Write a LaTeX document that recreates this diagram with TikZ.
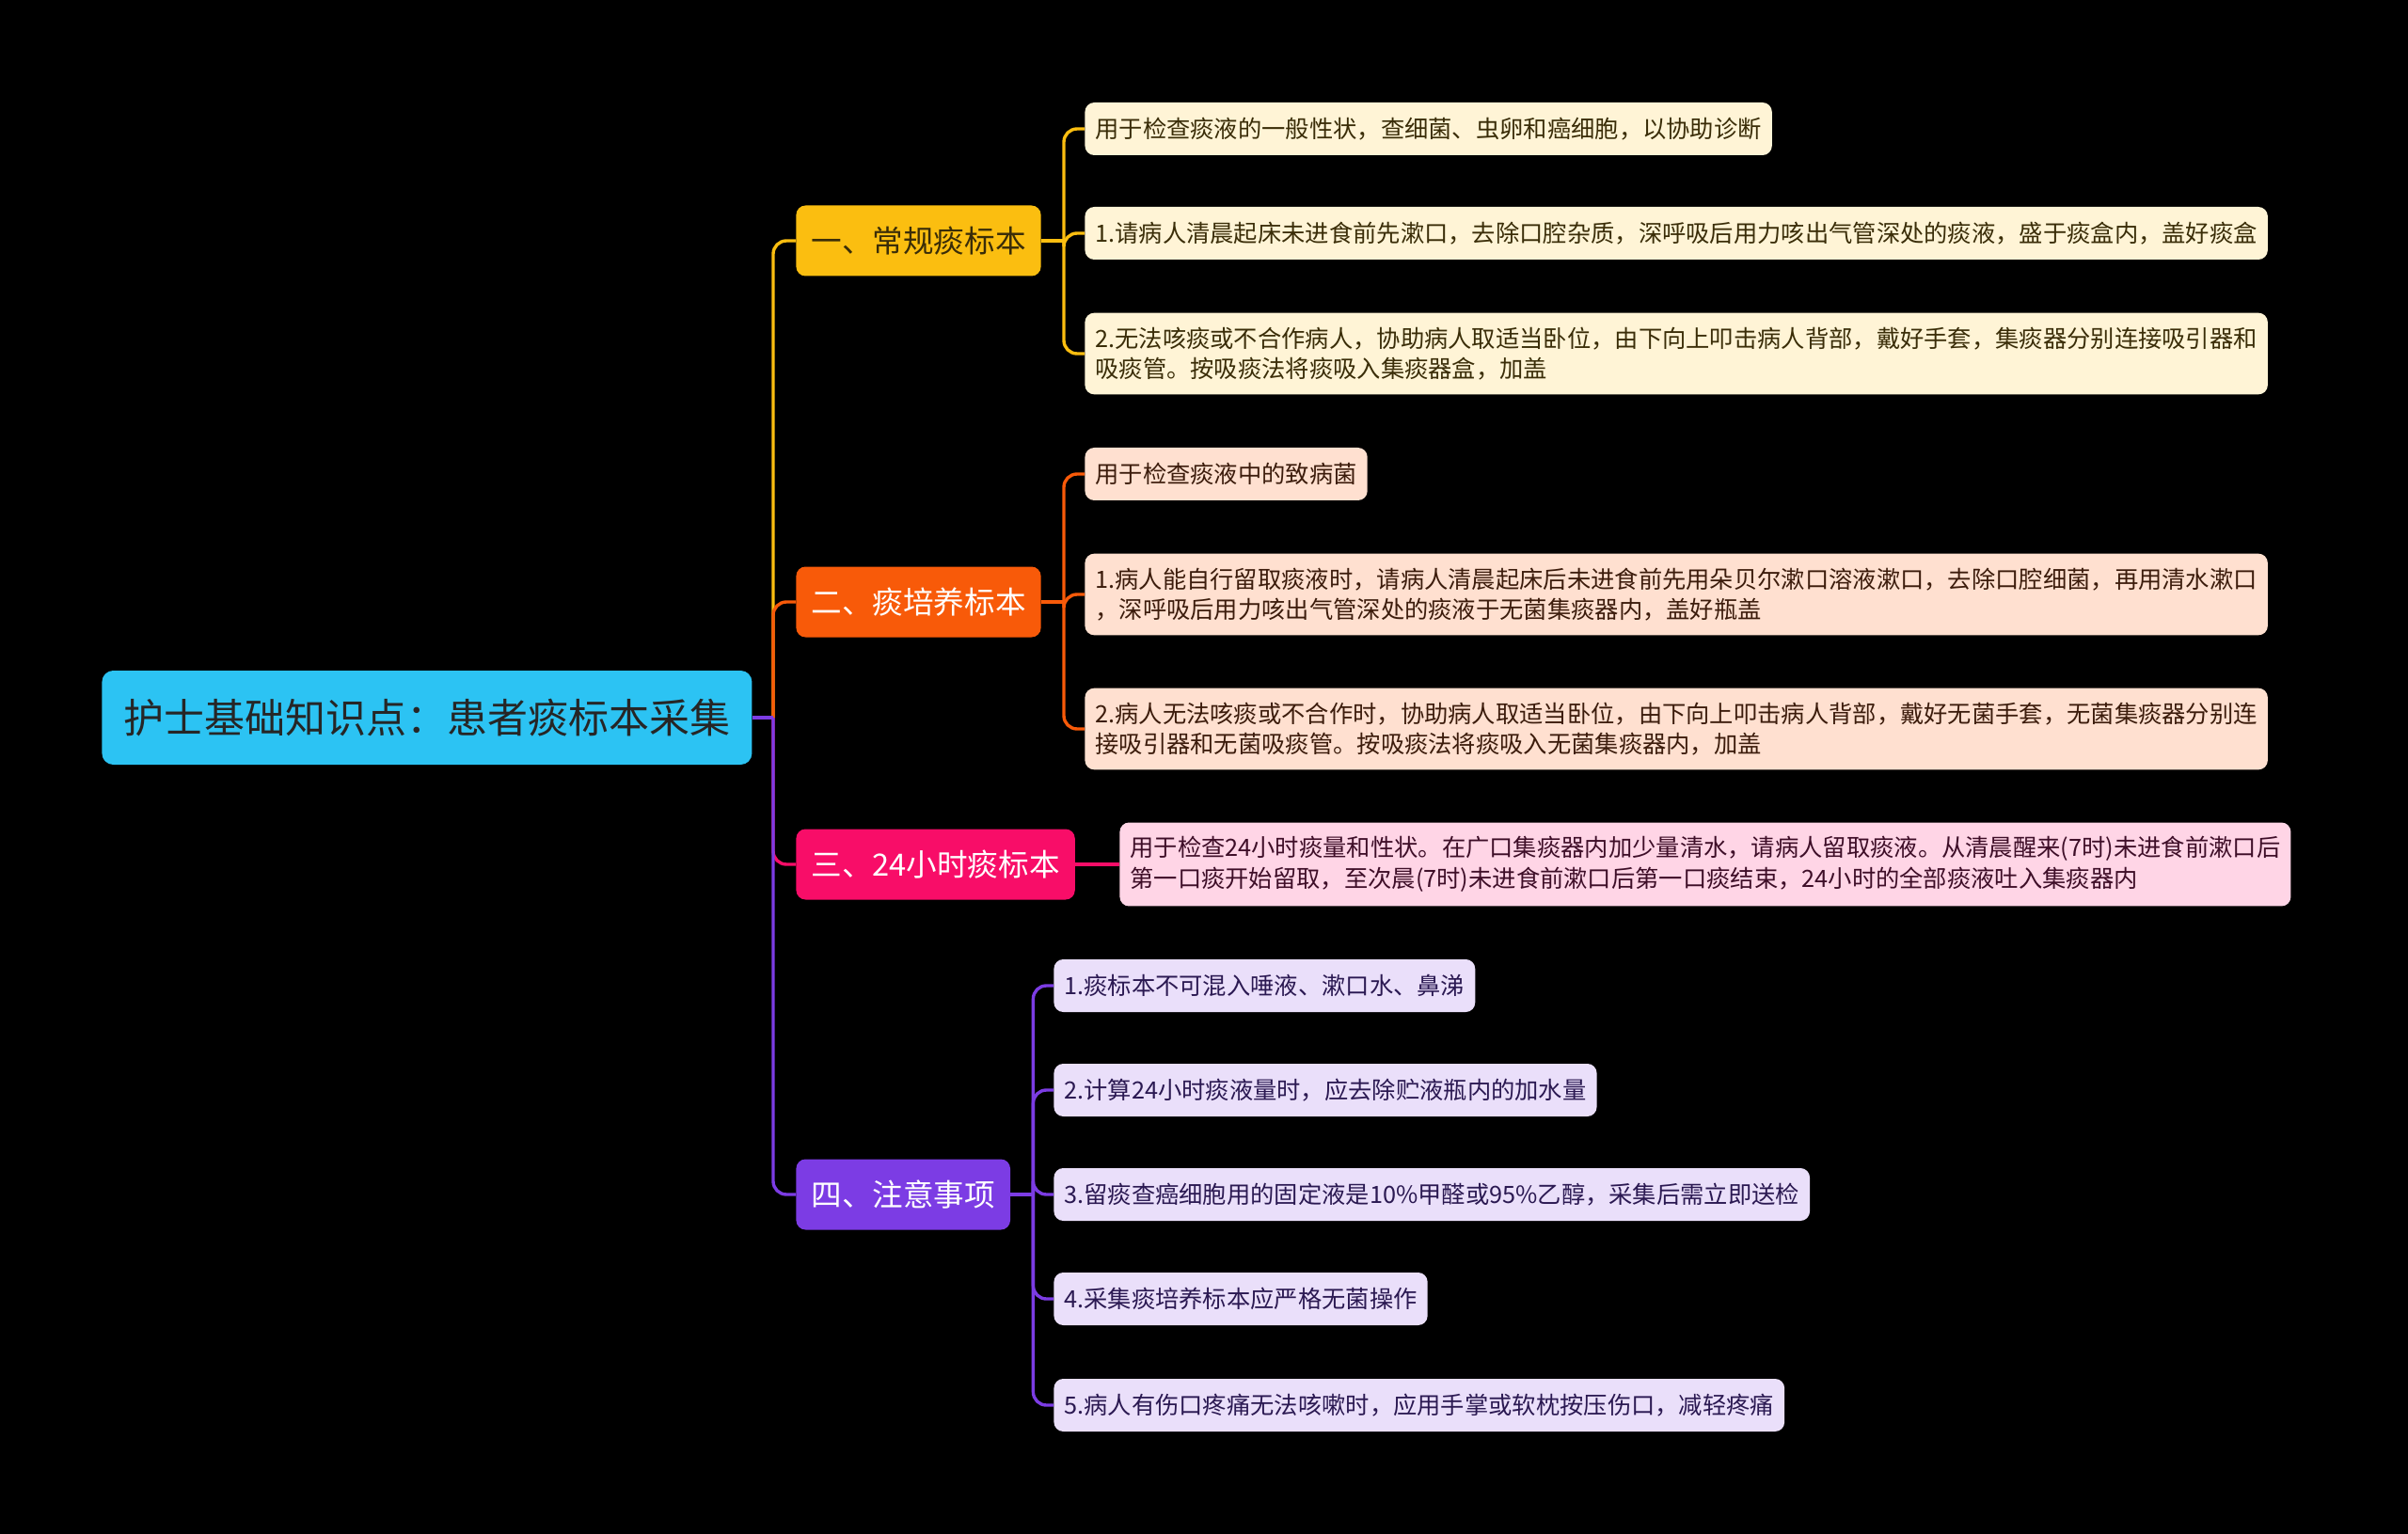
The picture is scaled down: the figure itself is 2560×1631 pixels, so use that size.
\documentclass[tikz,border=0pt]{standalone}
\usepackage{fontspec}
\setmainfont{Noto Sans CJK SC}
\definecolor{rootcyan}{HTML}{2CC3F3}
\definecolor{topicyellow}{HTML}{FBBE10}
\definecolor{topicorange}{HTML}{F85A09}
\definecolor{topicpink}{HTML}{F80D68}
\definecolor{topicpurple}{HTML}{7C3CE4}
\definecolor{leafyellow}{HTML}{FFF4D6}
\definecolor{leaforange}{HTML}{FFE0D0}
\definecolor{leafpink}{HTML}{FFD5E6}
\definecolor{leafpurple}{HTML}{EADFFA}
\definecolor{inkyellow}{HTML}{3A2D08}
\definecolor{inkorange}{HTML}{3C1C0C}
\definecolor{inkpink}{HTML}{3E0E28}
\definecolor{inkpurple}{HTML}{2B1952}

\begin{document}
\begin{tikzpicture}[x=0.5pt, y=-0.5pt,
        rootnode/.style = {rectangle, rounded corners=6pt, fill=rootcyan, text=black!85, anchor=west,
                font=\fontsize{21.5}{25}\selectfont, inner xsep=11.5pt, minimum height=50pt},
        topicnode/.style = {rectangle, rounded corners=5pt, anchor=west,
                font=\fontsize{16.3}{19}\selectfont, inner xsep=8pt, minimum height=37.5pt},
        leafnode/.style = {rectangle, rounded corners=5pt, anchor=west, align=left,
                font=\fontsize{12.65}{16.3}\selectfont, inner xsep=5.5pt, inner ysep=7.5pt, minimum height=28pt},
        link/.style = {line width=1.7pt, rounded corners=7pt}
        ]
        \fill[black] (0,0) rectangle (2560,1631);

        \node[rootnode] (root) at (108,763) {护士基础知识点：患者痰标本采集};
        \node[topicnode, fill=topicyellow, text=inkyellow] (t1) at (846,256) {一、常规痰标本};
        \node[topicnode, fill=topicorange, text=white] (t2) at (846,640) {二、痰培养标本};
        \node[topicnode, fill=topicpink, text=white] (t3) at (846,919) {三、24小时痰标本};
        \node[topicnode, fill=topicpurple, text=white] (t4) at (846,1270) {四、注意事项};

        \node[leafnode, fill=leafyellow, text=inkyellow] (t1a) at (1153,137) {用于检查痰液的一般性状，查细菌、虫卵和癌细胞，以协助诊断};
        \node[leafnode, fill=leafyellow, text=inkyellow] (t1b) at (1153,248) {1.请病人清晨起床未进食前先漱口，去除口腔杂质，深呼吸后用力咳出气管深处的痰液，盛于痰盒内，盖好痰盒};
        \node[leafnode, fill=leafyellow, text=inkyellow] (t1c) at (1153,376) {2.无法咳痰或不合作病人，协助病人取适当卧位，由下向上叩击病人背部，戴好手套，集痰器分别连接吸引器和\\吸痰管。按吸痰法将痰吸入集痰器盒，加盖};

        \node[leafnode, fill=leaforange, text=inkorange] (t2a) at (1153,504) {用于检查痰液中的致病菌};
        \node[leafnode, fill=leaforange, text=inkorange] (t2b) at (1153,632) {1.病人能自行留取痰液时，请病人清晨起床后未进食前先用朵贝尔漱口溶液漱口，去除口腔细菌，再用清水漱口\\，深呼吸后用力咳出气管深处的痰液于无菌集痰器内，盖好瓶盖};
        \node[leafnode, fill=leaforange, text=inkorange] (t2c) at (1153,775) {2.病人无法咳痰或不合作时，协助病人取适当卧位，由下向上叩击病人背部，戴好无菌手套，无菌集痰器分别连\\接吸引器和无菌吸痰管。按吸痰法将痰吸入无菌集痰器内，加盖};

        \node[leafnode, fill=leafpink, text=inkpink] (t3a) at (1190,919) {用于检查24小时痰量和性状。在广口集痰器内加少量清水，请病人留取痰液。从清晨醒来(7时)未进食前漱口后\\第一口痰开始留取，至次晨(7时)未进食前漱口后第一口痰结束，24小时的全部痰液吐入集痰器内};

        \node[leafnode, fill=leafpurple, text=inkpurple] (t4a) at (1120,1048) {1.痰标本不可混入唾液、漱口水、鼻涕};
        \node[leafnode, fill=leafpurple, text=inkpurple] (t4b) at (1120,1159) {2.计算24小时痰液量时，应去除贮液瓶内的加水量};
        \node[leafnode, fill=leafpurple, text=inkpurple] (t4c) at (1120,1270) {3.留痰查癌细胞用的固定液是10\%甲醛或95\%乙醇，采集后需立即送检};
        \node[leafnode, fill=leafpurple, text=inkpurple] (t4d) at (1120,1381) {4.采集痰培养标本应严格无菌操作};
        \node[leafnode, fill=leafpurple, text=inkpurple] (t4e) at (1120,1494) {5.病人有伤口疼痛无法咳嗽时，应用手掌或软枕按压伤口，减轻疼痛};

        \coordinate (hub) at (822,763);
        \coordinate (h1) at ([xshift=12pt]t1.east);
        \coordinate (h2) at ([xshift=12pt]t2.east);
        \coordinate (h4) at ([xshift=12pt]t4.east);

        \draw[link, topicyellow] (hub) |- (t1.west);
        \draw[link, topicpink] (hub) |- (t3.west);
        \draw[link, topicorange] (hub) |- (t2.west);
        \draw[link, topicpurple] (hub) |- (t4.west);
        \draw[link, topicpurple] (root.east) -- (hub);

        \draw[link, topicyellow] (t1.east) -- (h1);
        \draw[link, topicyellow] (h1) |- (t1a.west);
        \draw[link, topicyellow] (h1) |- (t1b.west);
        \draw[link, topicyellow] (h1) |- (t1c.west);

        \draw[link, topicorange] (t2.east) -- (h2);
        \draw[link, topicorange] (h2) |- (t2a.west);
        \draw[link, topicorange] (h2) |- (t2b.west);
        \draw[link, topicorange] (h2) |- (t2c.west);

        \draw[link, topicpink] (t3.east) -- (t3a.west);

        \draw[link, topicpurple] (t4.east) -- (h4);
        \draw[link, topicpurple] (h4) |- (t4a.west);
        \draw[link, topicpurple] (h4) |- (t4b.west);
        \draw[link, topicpurple] (h4) |- (t4c.west);
        \draw[link, topicpurple] (h4) |- (t4d.west);
        \draw[link, topicpurple] (h4) |- (t4e.west);
\end{tikzpicture}
\end{document}
